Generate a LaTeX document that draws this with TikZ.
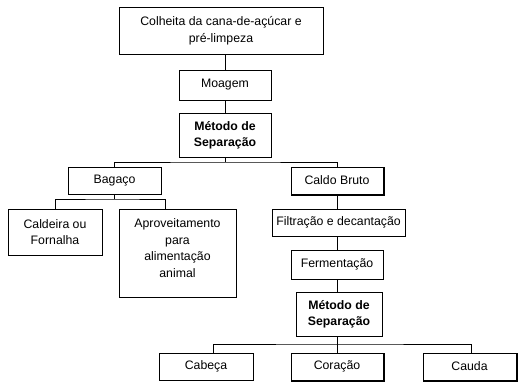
\documentclass[tikz,border=0pt]{standalone}
\usepackage{fontspec}
\setmainfont{Liberation Sans}
\begin{document}
\begin{tikzpicture}[x=1pt,y=-1pt,
  box/.style={draw=black,line width=0.8pt,inner sep=0pt,align=center,font=\fontsize{12.3}{16.5}\selectfont},
  boldbox/.style={box,font=\fontsize{12.3}{16}\selectfont\bfseries},
  link/.style={draw=black,line width=0.8pt},
  shade/.style={draw=black,line width=0.9pt}]
\useasboundingbox[fill=white] (0,0) rectangle (520,385);
\node[box,minimum width=204pt,minimum height=47pt] (top) at (221,30.5) {Colheita da cana-de-açúcar e\\pré-limpeza};
\node[box,minimum width=92pt,minimum height=30pt] (moa) at (225,85) {Moagem};
\node[boldbox,minimum width=92pt,minimum height=44pt] (met1) at (225,135) {Método de\\Separação};
\node[box,minimum width=93pt,minimum height=27pt] (bag) at (114.5,180.5) {Bagaço};
\node[box,minimum width=92pt,minimum height=27pt] (cal) at (337,180.5) {Caldo Bruto};
\node[box,minimum width=94pt,minimum height=46pt] (cdr) at (55,232) {Caldeira ou\\Fornalha};
\node[box,minimum width=117pt,minimum height=88pt] (apr) at (177.5,253) {};
\node[box,draw=none] (aprt) at (177.5,248) {Aproveitamento\\para\\alimentação\\animal};
\node[box,minimum width=133pt,minimum height=27pt] (fil) at (338.5,222.5) {Filtração e decantação};
\node[box,minimum width=92pt,minimum height=29pt] (fer) at (337,264.5) {Fermentação};
\node[boldbox,minimum width=86pt,minimum height=44pt] (met2) at (339,314) {Método de\\Separação};
\node[box,minimum width=94pt,minimum height=27pt] (cab) at (206,366.5) {Cabeça};
\node[box,minimum width=92pt,minimum height=27pt] (cor) at (337,366.5) {Coração};
\node[box,minimum width=93pt,minimum height=27pt] (cau) at (469.5,366.5) {Cauda};
% slight shadow edges
\foreach \n in {cal,cor,cau}{
  \draw[shade] ([xshift=0.9pt,yshift=-0.5pt]\n.north east) -- ([xshift=0.9pt,yshift=-0.9pt]\n.south east) -- ([xshift=0.5pt,yshift=-0.9pt]\n.south west);
}
% connectors
\draw[link] (moa.north) -- (moa.north |- top.south);
\draw[link] (moa.south) -- (met1.north);
\coordinate (j1) at (225,162);
\draw[link] (met1.south) -- (j1);
\draw[link] (bag.north) |- (j1) -| (cal.north);
\coordinate (j2) at (114.5,199);
\draw[link] (bag.south) -- (j2);
\draw[link] (cdr.north) |- (j2) -| (165,0 |- apr.north);
\draw[link] (cal.south) -- (fil.north -| cal.south);
\draw[link] (fil.south -| cal.south) -- (fer.north -| cal.south);
\draw[link] (fer.south -| cal.south) -- (met2.north -| cal.south);
\coordinate (j3) at (337,344);
\draw[link] (met2.south -| j3) -- (j3);
\draw[link] (213,0 |- cab.north) |- (j3) -| (471,0 |- cau.north);
\draw[link] (j3) -- (cor.north);
\end{tikzpicture}
\end{document}
